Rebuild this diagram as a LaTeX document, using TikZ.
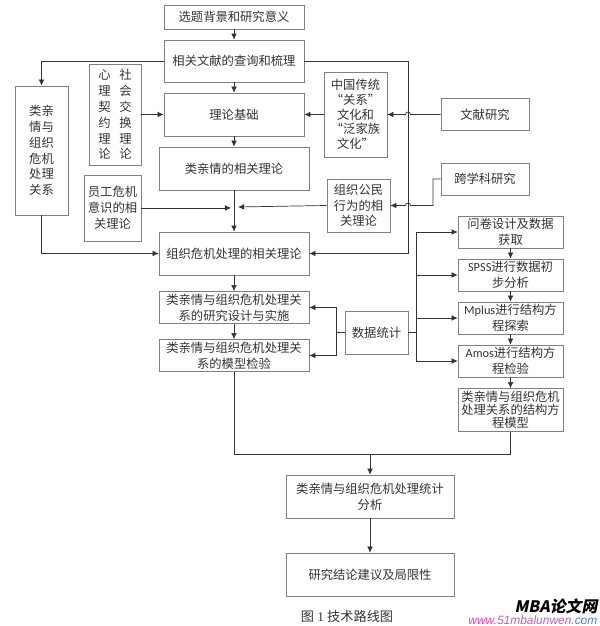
\documentclass[tikz,border=0pt]{standalone}
\usepackage{fontspec}
\setmainfont{Noto Sans CJK SC}
\newfontfamily\latinfont{Carlito}
\newfontfamily\capfont{Liberation Serif}
\newfontfamily\markfont[FakeSlant=0.2]{Noto Sans CJK SC}
\newfontfamily\urlfont{Liberation Sans}
\usepackage{xcolor}
\usepackage{tikz}
\usetikzlibrary{arrows.meta,shadows}
\definecolor{boxline}{HTML}{808080}
\definecolor{boxshade}{HTML}{C8D4E2}
\definecolor{txtgray}{HTML}{333333}
\tikzset{
  flowbox/.style={draw=boxline, fill=white, line width=0.7pt, align=center, inner sep=0pt, text=txtgray,
    font=\fontsize{14}{18}\selectfont,
    drop shadow={shadow xshift=0.6pt, shadow yshift=-0.6pt, fill=boxshade, opacity=1}},
  conn/.style={draw=black!80, line width=0.8pt},
  arr/.style={conn, -{Latex[length=7pt,width=6.5pt]}}
}
\begin{document}
\begin{tikzpicture}[x=1cm,y=1cm]
\useasboundingbox (0,0) rectangle (23.96,25.04);
\node[flowbox, minimum width=5.6cm, minimum height=0.96cm] (topic) at (9.36,24.36) {选题背景和研究意义};
\node[flowbox, minimum width=5.6cm, minimum height=1.68cm] (review) at (9.36,22.6) {相关文献的查询和梳理};
\node[flowbox, minimum width=5.6cm, minimum height=1.72cm] (basis) at (9.36,20.46) {理论基础};
\node[flowbox, minimum width=6cm, minimum height=1.72cm] (kinship) at (9.36,18.3) {类亲情的相关理论};
\node[flowbox, minimum width=6cm, minimum height=1.72cm] (crisis) at (9.36,14.9) {组织危机处理的相关理论};
\node[flowbox, minimum width=6cm, minimum height=1.28cm] (design) at (9.36,12.74) {类亲情与组织危机处理关\\系的研究设计与实施};
\node[flowbox, minimum width=6cm, minimum height=1.28cm] (model) at (9.36,10.82) {类亲情与组织危机处理关\\系的模型检验};
\node[flowbox, minimum width=2.12cm, minimum height=5.16cm] (relation) at (1.66,19.02) {类亲\\情与\\组织\\危机\\处理\\关系};
\node[flowbox, minimum width=2.08cm, minimum height=4.04cm] (social) at (4.6,20.46) {心\hspace{10pt}社\\理\hspace{10pt}会\\契\hspace{10pt}交\\约\hspace{10pt}换\\理\hspace{10pt}理\\论\hspace{10pt}论};
\node[flowbox, minimum width=2.28cm, minimum height=2.64cm] (staff) at (4.5,16.72) {员工危机\\意识的相\\关理论};
\node[flowbox, minimum width=2.52cm, minimum height=3.4cm, font=\fontsize{14}{16.8}\selectfont] (china) at (14.22,20.46) {中国传统\\“关系”\\文化和\\“泛家族\\文化”};
\node[flowbox, minimum width=2.52cm, minimum height=2.12cm] (civic) at (14.34,16.82) {组织公民\\行为的相\\关理论};
\node[flowbox, minimum width=3.52cm, minimum height=1.28cm] (literature) at (19.4,20.46) {文献研究};
\node[flowbox, minimum width=3.52cm, minimum height=1.28cm] (cross) at (19.4,17.88) {跨学科研究};
\node[flowbox, minimum width=4.2cm, minimum height=1.28cm] (survey) at (20.42,15.76) {问卷设计及数据\\获取};
\node[flowbox, minimum width=4.2cm, minimum height=1.28cm] (spss) at (20.42,14.04) {{\latinfont SPSS}进行数据初\\步分析};
\node[flowbox, minimum width=4.2cm, minimum height=1.28cm] (mplus) at (20.42,12.32) {{\latinfont Mplus}进行结构方\\程探索};
\node[flowbox, minimum width=4.2cm, minimum height=1.28cm] (amos) at (20.42,10.6) {{\latinfont Amos}进行结构方\\程检验};
\node[flowbox, minimum width=4.2cm, minimum height=1.72cm, font=\fontsize{14}{15}\selectfont] (sem) at (20.42,8.64) {类亲情与组织危机\\处理关系的结构方\\程模型};
\node[flowbox, minimum width=2.52cm, minimum height=1.72cm] (stats) at (15.06,11.74) {数据统计};
\node[flowbox, minimum width=6.72cm, minimum height=1.72cm] (analysis) at (14.8,5.18) {类亲情与组织危机处理统计\\分析};
\node[flowbox, minimum width=6.72cm, minimum height=1.72cm] (result) at (14.8,2.06) {研究结论建议及局限性};
\node[text=txtgray, inner sep=0pt, font=\fontsize{15}{18}\selectfont] (caption) at (13.88,0.4) {图{\capfont{} 1 }技术路线图};
\node[anchor=east, inner sep=0pt, font=\markfont\bfseries\fontsize{18}{20}\selectfont] (markname) at (23.9,0.8) {MBA论文网};
\node[anchor=east, inner sep=0pt, font=\urlfont\itshape\fontsize{13.6}{15}\selectfont] (markurl) at (23.9,0.24) {\textcolor{magenta!75!white}{www.}\textcolor{violet!60!white}{51mbalunwen}\textcolor{cyan!70!black}{.com}};
\coordinate (busa) at (16.32,22.6);
\coordinate (busb) at (16.32,14.9);
\coordinate (jumpa) at (16.42,20.46);
\coordinate (bendk) at (17.32,17.88);
\coordinate (bendl) at (17.32,16.82);
\coordinate (jumpb) at (16.42,16.82);
\coordinate (staffend) at (9.24,16.72);
\coordinate (civicend) at (9.52,16.76);
\coordinate (splitl) at (13.44,11.74);
\coordinate (splitr) at (16.64,11.74);
\coordinate (mergept) at (14.8,6.88);
\draw[arr] (topic) -- (review);
\draw[arr] (review) -- (basis);
\draw[arr] (basis) -- (kinship);
\draw[arr] (kinship) -- (crisis);
\draw[arr] (crisis) -- (design);
\draw[arr] (design) -- (model);
\draw[arr] (review.west) -| (relation.north);
\draw[arr] (relation.south) |- (crisis.west);
\draw[arr] (social.east) -- (basis.west);
\draw[arr] (china.west) -- (basis.east);
\draw[arr] (review.east) -- (busa) -- (busb) -- (crisis.east);
\draw[arr] (literature.west) -- (jumpa) arc[start angle=0,end angle=180,radius=0.1] -- (china.east);
\draw[arr] (cross.west) -- (bendk) -- (bendl) -- (jumpb) arc[start angle=0,end angle=180,radius=0.1] -- (civic.east);
\draw[arr] (staff.east) -- (staffend);
\draw[arr] (civic.west) -- (civicend);
\draw[conn] (stats.west) -- (splitl);
\draw[arr] (splitl) |- (design.east);
\draw[arr] (splitl) |- (model.east);
\draw[conn] (stats.east) -- (splitr);
\draw[arr] (splitr) |- (survey.west);
\draw[arr] (splitr) |- (spss.west);
\draw[arr] (splitr) |- (mplus.west);
\draw[arr] (splitr) |- (amos.west);
\draw[arr] (survey) -- (spss);
\draw[arr] (spss) -- (mplus);
\draw[arr] (mplus) -- (amos);
\draw[arr] (amos) -- (sem);
\draw[conn] (model.south) |- (mergept);
\draw[conn] (sem.south) |- (mergept);
\draw[arr] (mergept) -- (analysis.north);
\draw[arr] (analysis) -- (result);
\end{tikzpicture}
\end{document}
